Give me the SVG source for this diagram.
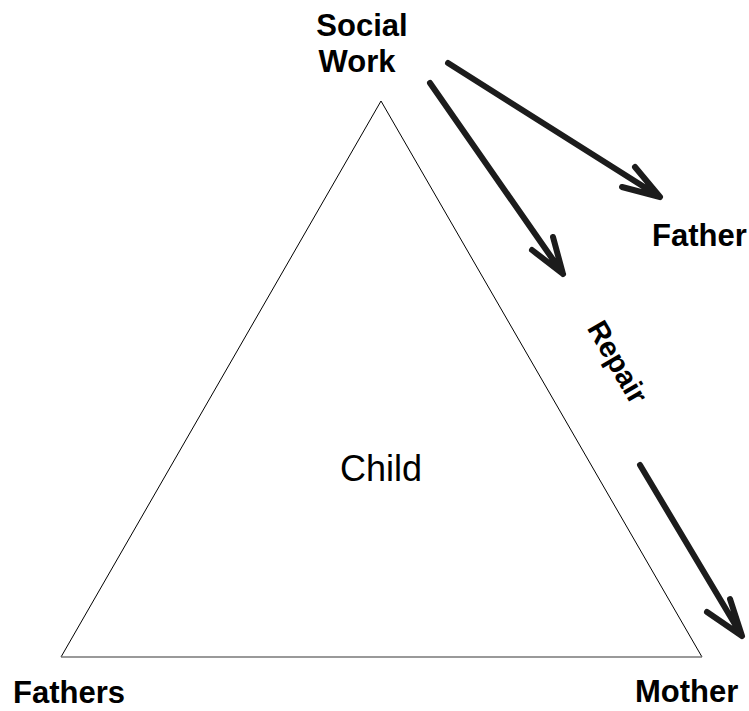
<svg xmlns="http://www.w3.org/2000/svg" width="749" height="711" viewBox="0 0 749 711">
<style>
.lbl{font-family:"Liberation Sans",Arial,sans-serif;font-weight:bold;font-size:31px;fill:#000}
.ctr{font-family:"Liberation Sans",Arial,sans-serif;font-size:36px;fill:#000}
.arr{fill:none;stroke:#1c1c1c;stroke-width:6;stroke-linecap:round;stroke-linejoin:round}
</style>
<rect width="749" height="711" fill="#fff"/>
<g id="triangle">
<path d="M61,657 L381,101 L702,657" fill="none" stroke="#000" stroke-width="1"/>
<line x1="61" y1="657" x2="702" y2="657" stroke="#777" stroke-width="1.5"/>
<text class="ctr" x="381" y="481" text-anchor="middle">Child</text>
</g>
<g id="social-work"><text class="lbl" text-anchor="middle"><tspan x="362" y="36">Social</tspan><tspan x="357" y="72">Work</tspan></text></g>
<g id="father"><text class="lbl" x="652" y="246">Father</text></g>
<g id="fathers"><text class="lbl" x="13" y="703">Fathers</text></g>
<g id="mother"><text class="lbl" x="635" y="702">Mother</text></g>
<g id="repair"><text class="lbl" text-anchor="middle" transform="translate(609,367) rotate(60)" style="font-size:29px">Repair</text></g>
<g id="connectors">
<path class="arr" d="M448,63 L660,197 M622,187 L660,197 L635,167"/>
<path class="arr" d="M430,83 L563,274 M532,250 L563,274 L553,237"/>
<path class="arr" d="M640,465 L742,636 M707,612 L742,636 L730,599"/>
</g>
</svg>
